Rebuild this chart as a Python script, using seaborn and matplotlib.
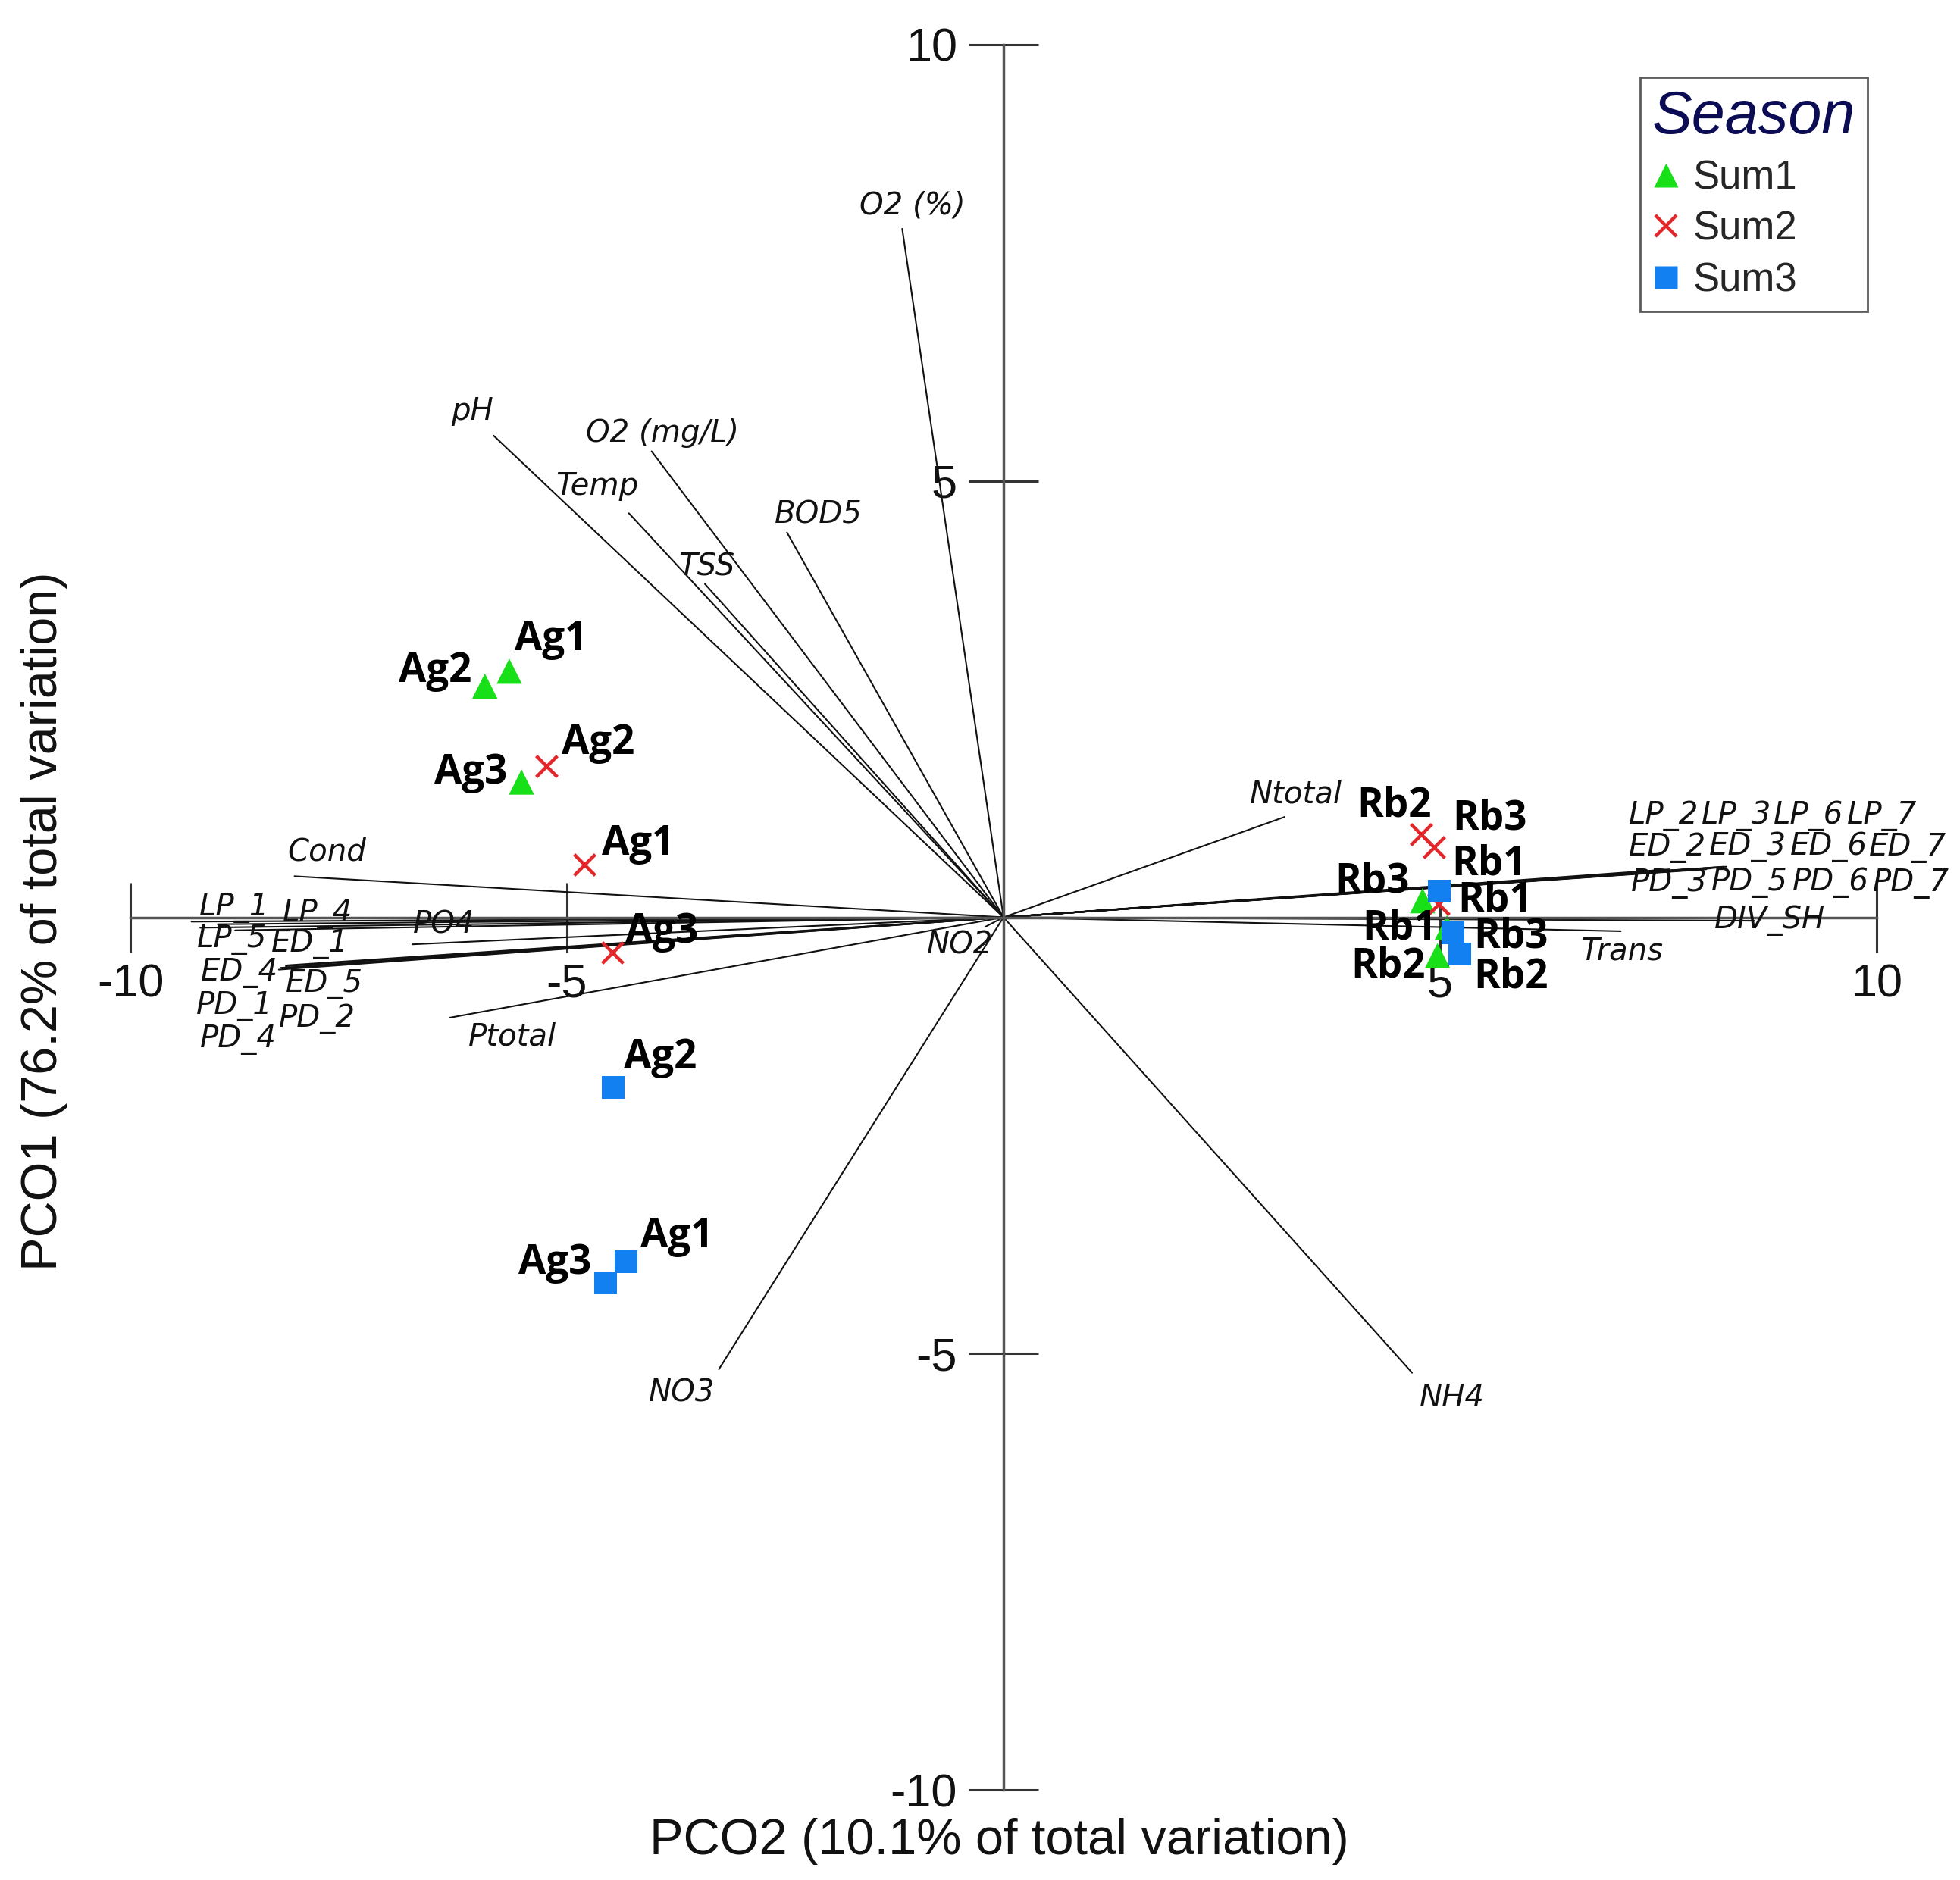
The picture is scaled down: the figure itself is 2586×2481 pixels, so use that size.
import numpy as np
import pandas as pd
import matplotlib
matplotlib.use("Agg")
import matplotlib.pyplot as plt
from matplotlib.lines import Line2D
import seaborn as sns

# site scores on PCO2 (x) and PCO1 (y)
season = ["Sum1"] * 6 + ["Sum2"] * 6 + ["Sum3"] * 6
site = ["Ag1", "Ag2", "Ag3", "Rb1", "Rb2", "Rb3"] * 3
pco2 = [-5.66, -5.94, -5.52, 5.08, 4.97, 4.80,
        -4.80, -5.23, -4.48, 4.98, 4.78, 4.93,
        -4.32, -4.47, -4.56, 4.99, 5.23, 5.15]
pco1 = [2.82, 2.65, 1.55, -0.12, -0.44, 0.19,
        0.60, 1.73, -0.40, 0.15, 0.955, 0.80,
        -3.95, -1.95, -4.19, 0.30, -0.42, -0.18]

# vector overlay (end points of the variable vectors)
var_names = ["O2 (%)", "pH", "O2 (mg/L)", "Temp", "TSS", "BOD5", "Ntotal", "NH4",
             "NO3", "NO2", "Cond", "PO4", "Ptotal", "Trans", "DIV_SH",
             "LP_1", "LP_4", "LP_5", "ED_1", "ED_4", "ED_5", "PD_1", "PD_2", "PD_4",
             "LP_2", "LP_3", "LP_6", "LP_7", "ED_2", "ED_3", "ED_6", "ED_7",
             "PD_3", "PD_5", "PD_6", "PD_7"]
var_x = [-1.16, -5.84, -4.03, -4.29, -3.42, -2.48, 3.22, 4.68,
         -3.26, -0.21, -8.12, -6.77, -6.34, 7.07, 8.60,
         -9.30, -9.00, -9.20, -8.80, -8.26, -8.20, -8.30, -8.22, -8.28,
         7.63, 7.95, 8.15, 8.28, 7.60, 7.90, 8.10, 8.25,
         7.55, 7.85, 8.05, 8.20]
var_y = [7.89, 5.52, 5.34, 4.63, 3.82, 4.41, 1.15, -5.22,
         -5.18, -0.11, 0.47, -0.31, -1.15, -0.16, -0.04,
         -0.05, -0.08, -0.12, -0.15, -0.59, -0.55, -0.60, -0.56, -0.58,
         0.55, 0.56, 0.57, 0.58, 0.53, 0.55, 0.56, 0.58,
         0.52, 0.54, 0.55, 0.57]

seasons = ["Sum1", "Sum2", "Sum3"]
season_colors = {"Sum1": "#18e018", "Sum2": "#e3262a", "Sum3": "#1380f2"}

# label placement (offset points from the mark)
site_offset = {
    ("Sum1", "Ag1"): (40, 30), ("Sum1", "Ag2"): (-47, 14), ("Sum1", "Ag3"): (-48, 9),
    ("Sum1", "Rb1"): (-45, -1), ("Sum1", "Rb2"): (-47, -10), ("Sum1", "Rb3"): (-48, 18),
    ("Sum2", "Ag1"): (51, 20), ("Sum2", "Ag2"): (49, 22), ("Sum2", "Ag3"): (47, 19),
    ("Sum2", "Rb1"): (48, 38), ("Sum2", "Rb2"): (-25, 27), ("Sum2", "Rb3"): (53, 27),
    ("Sum3", "Ag1"): (48, 24), ("Sum3", "Ag2"): (45, 28), ("Sum3", "Ag3"): (-48, 19),
    ("Sum3", "Rb1"): (53, -9), ("Sum3", "Rb2"): (48, -22), ("Sum3", "Rb3"): (55, -4),
}
var_offset = {
    "O2 (%)": (10, 22), "pH": (-20, 23), "O2 (mg/L)": (10, 17), "Temp": (-30, 26),
    "TSS": (2, 16), "BOD5": (30, 17), "Ntotal": (11, 22), "NH4": (38, -24),
    "NO3": (-35, -22), "NO2": (-24, -17), "Cond": (31, 23), "PO4": (30, 19),
    "Ptotal": (59, -18), "Trans": (1, -19), "DIV_SH": (15, 0),
    "LP_1": (41, 13), "LP_4": (95, 10), "LP_5": (30, -11), "ED_1": (71, -13),
    "ED_4": (-41, -4), "ED_5": (35, -18), "PD_1": (-42, -35), "PD_2": (30, -50),
    "PD_4": (-40, -68),
    "LP_2": (-6, 51), "LP_3": (37, 50), "LP_6": (89, 49), "LP_7": (148, 48),
    "ED_2": (0, 22), "ED_3": (52, 21), "ED_6": (112, 20), "ED_7": (175, 18),
    "PD_3": (6, -11), "PD_5": (58, -12), "PD_6": (118, -13), "PD_7": (182, -15),
}
marker_style = {
    "Sum1": dict(marker="^", s=576, edgecolor="none", linewidth=0),
    "Sum2": dict(marker="x", s=400, linewidth=3.2),
    "Sum3": dict(marker="s", s=467, edgecolor="none", linewidth=0),
}

df = pd.DataFrame({"Season": season, "Site": site, "PCO2": pco2, "PCO1": pco1})
vec = pd.DataFrame({"name": var_names, "x": var_x, "y": var_y})

sns.set_theme(style="white")
plt.rcParams["font.family"] = ["Liberation Sans", "DejaVu Sans"]
plt.rcParams["axes.unicode_minus"] = False

fig = plt.figure(figsize=(25.86, 24.81), dpi=100)
ax = fig.add_axes([0, 0, 1, 1])
ax.set_xlim(-11.493, 10.955)
ax.set_ylim(-11.033, 10.512)

# vectors
for _, r in vec.iterrows():
    ax.plot([0, r["x"]], [0, r["y"]], color="#111111", lw=1.5, zorder=2)
    dx, dy = var_offset[r["name"]]
    ax.annotate(r["name"], (r["x"], r["y"]), xytext=(dx, dy), textcoords="offset points",
                ha="center", va="center", fontsize=29, family="DejaVu Sans",
                style="italic", color="#111111", zorder=5)

# site points
for s in seasons:
    sub = df[df["Season"] == s]
    sns.scatterplot(data=sub, x="PCO2", y="PCO1", color=season_colors[s],
                    ax=ax, legend=False, zorder=3, **marker_style[s])

for _, r in df.iterrows():
    dx, dy = site_offset[(r["Season"], r["Site"])]
    ax.annotate(r["Site"], (r["PCO2"], r["PCO1"]), xytext=(dx, dy),
                textcoords="offset points", ha="center", va="center",
                fontsize=38, family="Open Sans", weight="bold", color="black", zorder=6)

# axes crossing at the origin
for side in ["top", "right"]:
    ax.spines[side].set_visible(False)
for side in ["left", "bottom"]:
    ax.spines[side].set_position("zero")
    ax.spines[side].set_bounds(-10, 10)
    ax.spines[side].set_color("#555555")
    ax.spines[side].set_linewidth(2.5)
    ax.spines[side].set_zorder(4)
ax.set_xticks([-10, -5, 5, 10])
ax.set_yticks([-10, -5, 5, 10])
ax.tick_params(axis="both", direction="inout", length=66, width=2.2, color="#333333",
               labelsize=44, labelcolor="#111111", pad=11, bottom=True, left=True)

ax.set_xlabel("PCO2 (10.1% of total variation)", fontsize=48, color="#111111")
ax.set_ylabel("PCO1 (76.2% of total variation)", fontsize=48, color="#111111")
ax.xaxis.label.set_va("center")
ax.yaxis.label.set_va("center")
ax.xaxis.set_label_coords(0.510, 0.0206)
ax.yaxis.set_label_coords(0.0224, 0.5099)

handles = [
    Line2D([], [], ls="none", marker="^", markersize=23, color=season_colors["Sum1"], mec="none"),
    Line2D([], [], ls="none", marker="x", markersize=20, mew=3.2, color=season_colors["Sum2"]),
    Line2D([], [], ls="none", marker="s", markersize=22, color=season_colors["Sum3"], mec="none"),
]
leg = ax.legend(handles, seasons, title="Season", loc="upper right",
                bbox_to_anchor=(0.9528, 0.9589), borderaxespad=0, frameon=True,
                fancybox=False, edgecolor="#333333", fontsize=38,
                title_fontproperties={"size": 57, "style": "italic"},
                borderpad=0.3, handlelength=0.7, handletextpad=0.32, labelspacing=0.33)
leg._legend_box.align = "left"
leg.get_title().set_color("#0c0c55")
leg.get_frame().set_linewidth(2)
leg.set_zorder(10)

fig.savefig("out.png", dpi=100, facecolor="white")
